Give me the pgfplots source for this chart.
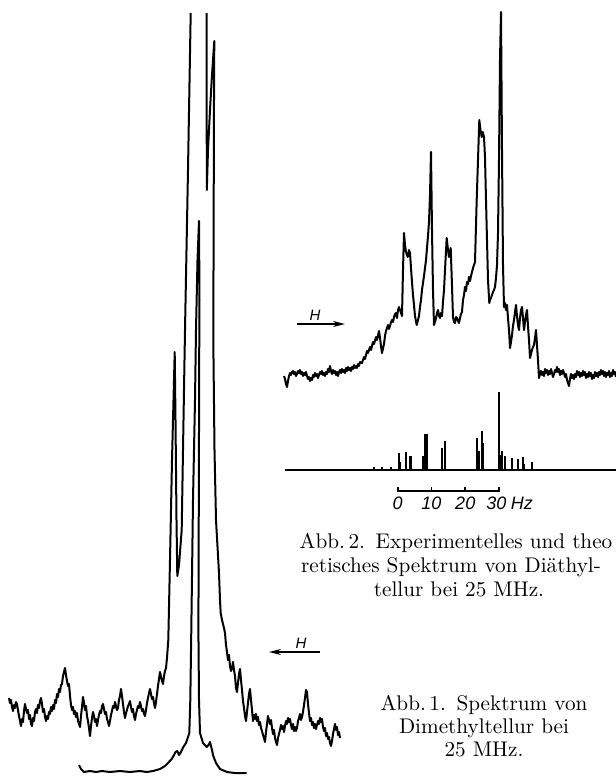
\documentclass[border=0pt]{standalone}
\usepackage{fontspec}
\usepackage{pgfplots}
\pgfplotsset{compat=1.18}
\usetikzlibrary{arrows.meta}
\newfontfamily\hv{Liberation Sans}
\begin{document}
\begin{tikzpicture}
\pgfplotsset{trace/.style={black, line width=1pt, line join=round, no markers}}
% master axis in pixel units (y measured from top)
\begin{axis}[at={(0,0)}, anchor=south west, scale only axis,
  width=308pt, height=389pt, xmin=0, xmax=616, ymin=0, ymax=778,
  y dir=reverse, hide axis, clip=false]
% ---- Abb. 2: experimental spectrum
\addplot[trace] coordinates {
(284,376)(285,379)(286,384)(287,387)(288,381)(289,376)(290,373)(291,375)(292,372)(293,371)(294,374)(295,372)(296,376)(297,374)(298,371)(299,373)(300,370)(301,374)(302,372)(303,376)(304,373)(305,375)(306,372)(307,376)(308,379)(309,377)(310,381)(311,378)(312,380)(313,375)(314,377)(315,373)(316,376)(317,374)(318,378)(319,375)(320,372)(321,374)(322,371)(323,375)(324,373)(325,376)(326,372)(327,374)(328,369)(329,372)(330,366)(331,371)(332,374)(333,370)(334,373)(335,371)(336,375)(337,372)(338,376)(339,372)(340,370)(341,373)(342,369)(343,372)(344,370)(345,373)(346,368)(347,371)(348,367)(349,370)(350,368)(351,371)(352,367)(353,369)(354,365)(355,368)(356,366)(357,368)(358,364)(359,366)(360,362)(362,363)(364,357)(365,359)(367,351)(368,353)(370,347)(371,350)(373,342)(374,344)(376,337)(377,340)(379,331)(380,338)(381,346)(382,353)(384,344)(385,336)(386,331)(387,328)(388,325)(389,329)(390,326)(391,322)(392,320)(393,322)(394,317)(395,314)(396,313)(397,318)(398,310)(399,307)(400,310)(401,313)(402,316)(403,270)(404,233)(405,245)(406,252)(407.7,257)(409,250)(410,253)(411,268)(412,282)(413,295)(414,305)(415,316)(416.7,325)(418,320)(419,316)(420,307)(421,300)(422,290)(423,283)(424,276)(426,260)(428,236)(429,222)(430,195)(431,152)(432,230)(433,290)(434,325)(435,322)(436,318)(437,313)(438,310)(439,316)(440,318)(441,313)(442,316)(443,302)(444,290)(445,270)(446.7,238)(448,250)(449,257)(450.7,248)(451.7,277)(453,317)(454,322)(455,323)(456,317)(457,318)(458,321)(459,323)(460,318)(461,314)(462,312)(463,300)(464,295)(465,287)(466,291)(467,282)(468,284)(469,277)(470,281)(471,276)(472,272)(473.3,267)(475,262)(476.7,200)(479.3,120)(480.5,130)(481.7,137)(482.8,132)(484,137)(485,157)(486,200)(487,240)(488,280)(489.3,303)(490,300)(491,298)(492,295)(493,292)(494,290)(495,287)(496,278)(497,265)(498,233)(499,160)(500,60)(501,12)(502,150)(503,265)(504,307)(505,303)(506,310)(507,305)(508,318)(509,330)(510,348)(511,342)(512,335)(513,326)(514,320)(515,312)(516,305)(517,316)(518,325)(519,330)(520,318)(521,310)(522,307)(523,318)(524,330)(525,322)(526,315)(527,310)(528,326)(529,340)(530,358)(531,354)(532,350)(533,347)(534,345)(535,338)(536,330)(537,345)(538,360)(539,378)(540,374)(541,371)(542,375)(543,372)(544,376)(545,369)(546,373)(547,370)(548,375)(549,371)(550,374)(551,369)(552,373)(553,377)(554,374)(555,370)(556,372)(557,367)(558,372)(559,369)(560,375)(561,371)(562,374)(563,370)(564,373)(565,377)(566,374)(567,380)(568,383)(569,386)(570,379)(571,374)(572,378)(573,375)(574,379)(575,374)(576,377)(577,371)(578,375)(579,372)(580,377)(581,373)(582,376)(583,371)(584,375)(585,372)(586,378)(587,374)(588,377)(589,372)(590,376)(591,373)(592,379)(593,375)(594,378)(595,372)(596,376)(597,373)(598,377)(599,372)(600,375)(601,370)(602,374)(603,371)(604,376)(605,372)(606,377)(607,373)(608,375)(609,371)(610,377)(611,373)(612,376)(613,370)(614,374)(615,372)(616,377)
};
\addplot[black, line width=0.8pt, -{Stealth[length=6pt,width=3pt]}] coordinates {(297,324)(345,324)};
\node[font=\hv\itshape\fontsize{7.5}{8}\selectfont, anchor=base] at (axis cs:315,320) {H};
% ---- Abb. 1: upper (noisy) trace
\addplot[trace] coordinates {
(9,698)(10,703)(11,700)(12,707)(13,711)(14,705)(15,708)(16,702)(17,704)(18,710)(19,716)(20,721)(21,726)(22,719)(23,722)(24,711)(25,704)(26,709)(27,713)(28,710)(29,719)(30,715)(31,724)(32,726)(33,718)(34,721)(35,712)(36,709)(37,713)(38,705)(39,708)(40,701)(41,698)(42,704)(43,712)(44,709)(45,717)(46,721)(47,716)(48,719)(49,712)(50,714)(51,707)(52,711)(53,705)(54,709)(55,700)(56,703)(57,694)(58,697)(59,689)(60,692)(61,685)(62,684)(63,676)(64,672)(65,668)(66,675)(67,681)(68,686)(69,684)(70,696)(71,705)(72,710)(73,707)(74,714)(75,711)(76,717)(77,713)(78,721)(79,724)(80,727)(81,716)(82,707)(83,697)(84,703)(85,710)(86,706)(87,716)(88,721)(89,728)(90,736)(91,726)(92,718)(93,712)(94,716)(95,722)(96,719)(97,726)(98,720)(99,715)(100,711)(101,713)(102,706)(103,704)(104,709)(105,714)(106,712)(107,719)(108,722)(109,726)(110,721)(111,715)(112,711)(113,706)(114,708)(115,702)(116,706)(117,710)(118,708)(119,700)(120,696)(121,689)(122,696)(123,704)(124,712)(125,718)(126,713)(127,710)(128,706)(129,704)(130,701)(131,707)(132,712)(133,709)(134,716)(135,720)(136,714)(137,710)(138,706)(139,708)(140,702)(141,706)(142,711)(143,709)(144,714)(145,716)(146,710)(147,703)(148,698)(149,693)(150,689)(151,694)(152,699)(153,697)(154,703)(155,708)(156,702)(157,694)(158,686)(159,679)(160,672)(161,677)(162,681)(163,684)(164,676)(165,671)(166,668)(167,658)(168.3,640)(170,560)(172,460)(174.7,352)(175.5,420)(176.5,520)(177.3,576)(179,565)(181.7,530)(183,450)(185,330)(188,170)(190.7,13)
};
\addplot[trace] coordinates {
(206.7,13)(206.7,100)(206.8,190)(208,150)(210,110)(212,75)(214.3,41)(214,100)(213.7,200)(213.3,340)(214.5,450)(216,520)(219,573)(220,600)(220.7,613)(222,620)(223,624)(224,628)(225,633)(226,645)(227,652)(228,660)(229,655)(230,666)(231,671)(232,668)(233,662)(234,670)(235,676)(236,688)(237,692)(238,683)(239,674)(240,669)(241,680)(242,690)(243,701)(244,708)(245,716)(246,721)(247,712)(248,703)(249,694)(250,689)(251,700)(252,710)(253,721)(254,715)(255,719)(256,714)(257,721)(258,717)(259,725)(260,722)(261,728)(262,731)(263,735)(264,738)(265,742)(266,732)(267,724)(268,716)(269,720)(270,724)(271,720)(272,728)(273,734)(274,730)(275,738)(276,742)(277,745)(278,738)(279,734)(280,730)(281,725)(282,729)(283,726)(284,732)(285,726)(286,721)(287,724)(288,718)(289,722)(290,719)(291,725)(292,729)(293,724)(294,731)(295,727)(296,731)(297,728)(298,721)(299,718)(300,714)(301,720)(302,717)(303,712)(304,705)(305,698)(306,690)(307,692)(308,704)(309,713)(310,721)(311,718)(312,725)(313,722)(314,728)(315,724)(316,729)(317,725)(318,721)(319,724)(320,718)(321,722)(322,719)(323,727)(324,731)(325,728)(326,736)(327,733)(328,739)(329,737)(330,743)(331,746)(332,741)(333,734)(334,729)(335,724)(336,730)(337,727)(338,735)(339,732)(340,738)
};
% ---- Abb. 1: lower trace
\addplot[trace] coordinates {
(79,765)(81,769)(84,772)(90,771)(96,772)(102,771)(110,772)(120,771)(130,772)(140,771)(146.7,772)(153,771)(160,769)(165,766)(168,763)(171.7,759)(174,755)(175.5,752)(177.3,751)(179,755)(181,752)(183.3,747)(186,743)(189.3,733)(190.3,700)(191.3,630)(193,500)(195,400)(196,330)(197.5,260)(199,221)(199.5,300)(199.3,330)(198.8,500)(198.4,630)(199,700)(200,733)(203,743)(206.7,747)(208.5,745)(210,742)(211.5,748)(213.3,756)(216,763)(220,769)(227,772)(235,773)(246.7,773)
};
\addplot[black, line width=0.8pt, -{Stealth[length=6pt,width=3pt]}] coordinates {(320,652)(269,652)};
\node[font=\hv\itshape\fontsize{7.5}{8}\selectfont, anchor=base] at (axis cs:301,648) {H};
% ---- captions
\node[font=\fontsize{10.6}{12}\selectfont, anchor=base] at (axis cs:456,548) {Abb.\,2.\enspace Experimentelles und theo};
\node[font=\fontsize{10.6}{12}\selectfont, anchor=base] at (axis cs:451,572) {retisches Spektrum von Diäthyl-};
\node[font=\fontsize{10.6}{12}\selectfont, anchor=base] at (axis cs:459,596.5) {tellur bei 25 MHz.};
\node[font=\fontsize{10.6}{12}\selectfont, anchor=base] at (axis cs:484,710.5) {Abb.\,1.\enspace Spektrum von};
\node[font=\fontsize{10.6}{12}\selectfont, anchor=base] at (axis cs:484,733.5) {Dimethyltellur bei};
\node[font=\fontsize{10.6}{12}\selectfont, anchor=base] at (axis cs:484,756) {25 MHz.};
\end{axis}
% ---- Abb. 2: theoretical stick spectrum, x in Hz, y in px above baseline
\begin{axis}[at={(0,154pt)}, anchor=south west, scale only axis,
  width=308pt, height=50pt, xmin=-117.77, xmax=64.64, ymin=0, ymax=100,
  hide axis, clip=false]
\addplot[black, line width=0.9pt] coordinates {(-33.3,0)(64.6,0)};
\addplot[ycomb, black, line width=1pt, no markers] coordinates {
(-7.1,3.3)(-4.65,2.7)(-2.07,3.3)(0.30,16.7)(0.77,8.3)(2.37,18.3)(3.55,14.3)(3.94,14.3)(7.58,14)(8.17,36)(8.47,36)(8.77,36)(13.12,21.7)(14.10,29.3)(23.57,32.3)(23.99,19.3)(24.87,39.3)(25.35,26.7)(29.9,78)(30.30,15)(30.80,19.3)(31.86,14.3)(33.85,11.7)(35.62,11.3)(37.10,12.7)(37.49,6)(39.68,7.7)
};
% scale bar
\addplot[black, line width=0.8pt] coordinates {(0,-17)(0,-21)(30,-21)(30,-17)};
\addplot[black, line width=0.8pt] coordinates {(10,-21)(10,-17)};
\addplot[black, line width=0.8pt] coordinates {(20,-21)(20,-17)};
\node[font=\hv\itshape\fontsize{9}{10}\selectfont, anchor=base] at (axis cs:0,-40) {0};
\node[font=\hv\itshape\fontsize{9}{10}\selectfont, anchor=base] at (axis cs:10,-40) {10};
\node[font=\hv\itshape\fontsize{9}{10}\selectfont, anchor=base] at (axis cs:20,-40) {20};
\node[font=\hv\itshape\fontsize{9}{10}\selectfont, anchor=base] at (axis cs:29.2,-40) {30};
\node[font=\hv\itshape\fontsize{9}{10}\selectfont, anchor=base] at (axis cs:36.8,-40) {Hz};
\end{axis}
\pgfresetboundingbox
\path[use as bounding box] (0,0) rectangle (308pt,389pt);
\end{tikzpicture}
\end{document}
